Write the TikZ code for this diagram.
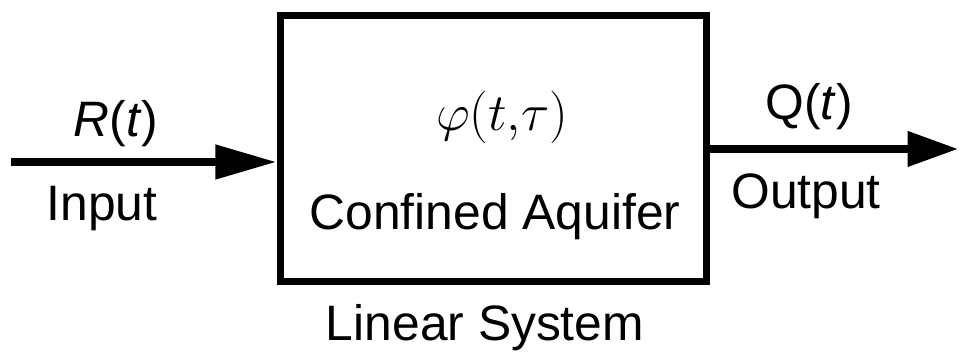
\documentclass[tikz,border=0pt]{standalone}
\usepackage{fontspec}
\setmainfont{Liberation Sans}
\usepackage{tikz}
\usetikzlibrary{arrows.meta}

\begin{document}
\begin{tikzpicture}[
    lbl/.style={font=\fontsize{23.6}{28}\selectfont, anchor=base},
    sig/.style={line width=3.8pt}]
    \useasboundingbox (0,0) rectangle (16,5.9);

    % The system block
    \node[draw, line width=3.3pt, minimum width=7.1cm, minimum height=4.433cm,
          inner sep=0pt] (sys) at (8.217,3.417) {};

    % Input and output
    \coordinate (in) at (0.183,3.2);
    \coordinate (out) at (15.97,3.417);
    \draw[sig, -{Triangle[length=29pt, width=15.6pt]}] (in) -- (sys.west |- in);
    \draw[sig, -{Triangle[length=24pt, width=16pt]}] (sys.east) -- (out);

    % Labels
    \node[lbl] (rt) at (1.933,3.633) {\textit{R}(\textit{t})};
    \node[lbl] (inp) at (1.7,2.233) {Input};
    \node[lbl] (qt) at (13.483,3.9) {Q(\textit{t})};
    \node[lbl] (outp) at (13.433,2.433) {Output};
    \node[anchor=base, font=\fontsize{28.5}{32}\selectfont] (phi) at (8.367,3.717) {$\varphi(t{,}\tau)$};
    \node[lbl] (aq) at (8.25,2.083) {Confined Aquifer};
    \node[lbl] (ls) at (8.083,0.233) {Linear System};
\end{tikzpicture}
\end{document}
